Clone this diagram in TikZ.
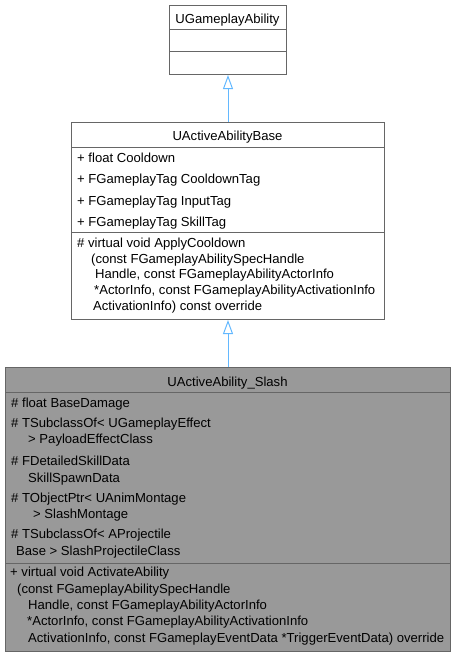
\documentclass[tikz,border=0pt]{standalone}
\usepackage{fontspec}
\setmainfont{Liberation Sans}
\usetikzlibrary{arrows.meta}
\definecolor{edgegray}{HTML}{666666}
\definecolor{selgray}{HTML}{999999}
\definecolor{inheritblue}{HTML}{63B8FF}
\tikzset{
    classbox/.style={draw=edgegray, line width=1pt, fill=white, inner sep=0pt, anchor=north west},
    member/.style={anchor=base west, inner sep=0pt, font=\fontsize{13.1}{15}\selectfont},
    classname/.style={anchor=base, inner sep=0pt, font=\fontsize{13.1}{15}\selectfont},
    inherit/.style={draw=inheritblue, line width=1pt, -{Triangle[open, length=14pt, width=10pt]}},
}
\begin{document}
\begin{tikzpicture}[x=1pt, y=-1pt]
        \useasboundingbox (0,0) rectangle (456,656);

        % UGameplayAbility
        \node[classbox, minimum width=117pt, minimum height=69pt] (ability) at (169,5) {};
        \draw[edgegray] (169,29) -- (286,29) (169,51) -- (286,51);
        \node[classname] (abilityname) at (227.5,23) {UGameplayAbility};

        % UActiveAbilityBase
        \node[classbox, minimum width=313pt, minimum height=197pt] (base) at (71,122) {};
        \draw[edgegray] (71,147) -- (384,147) (71,232) -- (384,232);
        \node[classname] (basename) at (227.5,140) {UActiveAbilityBase};
        \foreach \y/\x/\txt [count=\i] in {162/77/{+ float Cooldown},
                183.5/77/{+ FGameplayTag CooldownTag},
                205/77/{+ FGameplayTag InputTag},
                226.5/77/{+ FGameplayTag SkillTag},
                247/77/{\# virtual void ApplyCooldown},
                263/91/{(const FGameplayAbilitySpecHandle},
                278.5/95/{Handle, const FGameplayAbilityActorInfo},
                294/94/{*ActorInfo, const FGameplayAbilityActivationInfo},
                310/93/{ActivationInfo) const override}} {
                \node[member] (basetext\i) at (\x,\y) {\txt};
            }

        % UActiveAbility_Slash
        \node[classbox, fill=selgray, minimum width=445pt, minimum height=284pt] (slash) at (5,367) {};
        \draw[edgegray] (5,392) -- (450,392) (5,563) -- (450,563);
        \node[classname] (slashname) at (227.5,386) {UActiveAbility\_Slash};
        \foreach \y/\x/\txt [count=\i] in {407/11/{\# float BaseDamage},
                427/11/{\# TSubclassOf< UGameplayEffect},
                443/28/{> PayloadEffectClass},
                465/11/{\# FDetailedSkillData},
                482/28/{SkillSpawnData},
                502/11/{\# TObjectPtr< UAnimMontage},
                518/33/{> SlashMontage},
                538/11/{\# TSubclassOf< AProjectile},
                555/16/{Base > SlashProjectileClass},
                576/10/{+ virtual void ActivateAbility},
                593/17/{(const FGameplayAbilitySpecHandle},
                609/28/{Handle, const FGameplayAbilityActorInfo},
                625/27/{*ActorInfo, const FGameplayAbilityActivationInfo},
                642/28/{ActivationInfo, const FGameplayEventData *TriggerEventData) override}} {
                \node[member] (slashtext\i) at (\x,\y) {\txt};
            }

        % inheritance
        \draw[inherit] (base.north) -- (ability.south);
        \draw[inherit] (slash.north) -- (base.south);

    \end{tikzpicture}
\end{document}
